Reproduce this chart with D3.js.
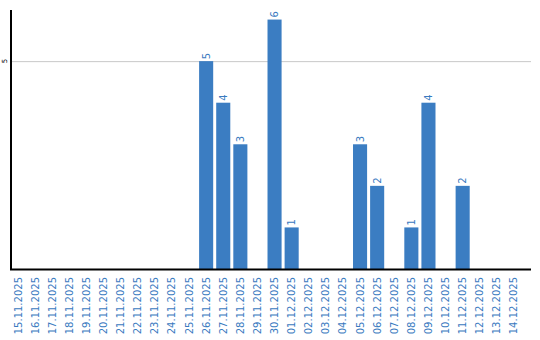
<!DOCTYPE html>
<html>
<head>
<meta charset="utf-8">
<script src="https://cdn.jsdelivr.net/npm/d3@7"></script>
<style>
	body { margin: 0; background: #fff; }
	text { font-family: "DejaVu Sans", sans-serif; }
</style>
</head>
<body>
<div id="chart"></div>
<script>
// chart data
var dates = ["15.11.2025", "16.11.2025", "17.11.2025", "18.11.2025", "19.11.2025",
	"20.11.2025", "21.11.2025", "22.11.2025", "23.11.2025", "24.11.2025",
	"25.11.2025", "26.11.2025", "27.11.2025", "28.11.2025", "29.11.2025",
	"30.11.2025", "01.12.2025", "02.12.2025", "03.12.2025", "04.12.2025",
	"05.12.2025", "06.12.2025", "07.12.2025", "08.12.2025", "09.12.2025",
	"10.12.2025", "11.12.2025", "12.12.2025", "13.12.2025", "14.12.2025"];
var counts = [0, 0, 0, 0, 0, 0, 0, 0, 0, 0,
	0, 5, 4, 3, 0, 6, 1, 0, 0, 0,
	3, 2, 0, 1, 4, 0, 2, 0, 0, 0];
var yTicks = [5];

// viz params
var w = 540,
	h = 340,
	plotLeft = 11,
	plotTop = 10,
	plotBottom = 269,
	plotRight = 531,
	step = 17,
	barColor = "#3b7dc2",
	textColor = "#3a7abf";

var svg = d3.select("#chart").append("svg")
	.attr("width", w)
	.attr("height", h);

var x = d3.scaleBand()
	.domain(dates)
	.range([plotLeft, plotLeft + step * dates.length])
	.paddingInner(3 / 17)
	.paddingOuter(0)
	.align(0);

var y = d3.scaleLinear()
	.domain([0, 6.23])
	.range([plotBottom, plotTop]);

// grid line
svg.selectAll("line.grid")
	.data(yTicks)
	.enter().append("line")
	.attr("class", "grid")
	.attr("x1", plotLeft)
	.attr("x2", plotRight)
	.attr("y1", function(d) { return y(d) + 0.5; })
	.attr("y2", function(d) { return y(d) + 0.5; })
	.attr("stroke", "#c8c8c8")
	.attr("stroke-width", 1);

// y tick labels
svg.selectAll("text.ytick")
	.data(yTicks)
	.enter().append("text")
	.attr("class", "ytick")
	.attr("transform", function(d) { return "translate(7," + y(d) + ") rotate(-90)"; })
	.attr("text-anchor", "middle")
	.attr("font-size", 7)
	.attr("fill", "#000")
	.text(function(d) { return d; });

// bars
svg.selectAll("rect.bar")
	.data(counts)
	.enter().append("rect")
	.attr("class", "bar")
	.attr("x", function(d, i) { return x(dates[i]); })
	.attr("y", function(d) { return y(d); })
	.attr("width", x.bandwidth())
	.attr("height", function(d) { return plotBottom - y(d); })
	.attr("fill", barColor);

// value labels, only for non-empty days
counts.forEach(function(d, i) {
	if (d <= 0) return;
	svg.append("text")
		.attr("class", "val")
		.attr("transform", "translate(" + (x(dates[i]) + x.bandwidth() / 2 + 3.5) + "," + (y(d) - 2) + ") rotate(-90)")
		.attr("text-anchor", "start")
		.attr("font-size", 10)
		.attr("fill", textColor)
		.text(d);
});

// x labels
svg.selectAll("text.xlab")
	.data(dates)
	.enter().append("text")
	.attr("class", "xlab")
	.attr("transform", function(d) {
		return "translate(" + (x(d) + x.bandwidth() / 2 + 3.5) + ",277) rotate(-90)";
	})
	.attr("text-anchor", "end")
	.attr("font-size", 10)
	.attr("fill", textColor)
	.text(function(d) { return d; });

// axes lines
svg.append("line")
	.attr("x1", plotLeft).attr("x2", plotLeft)
	.attr("y1", plotTop).attr("y2", plotBottom + 1)
	.attr("stroke", "#000").attr("stroke-width", 2);
svg.append("line")
	.attr("x1", plotLeft - 1).attr("x2", plotRight)
	.attr("y1", plotBottom + 0.5).attr("y2", plotBottom + 0.5)
	.attr("stroke", "#000").attr("stroke-width", 2);
</script>
</body>
</html>
